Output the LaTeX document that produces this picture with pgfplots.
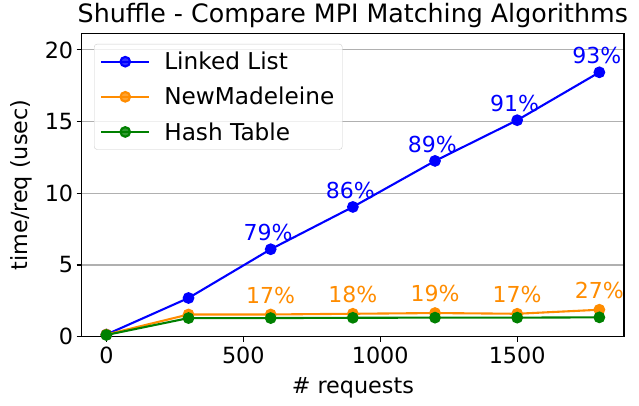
\documentclass[border=0pt]{standalone}
\usepackage{fontspec}
\setmainfont{DejaVu Sans}
\usepackage{pgfplots}
\pgfplotsset{compat=1.18}
\definecolor{mblue}{RGB}{0,0,255}
\definecolor{morange}{RGB}{255,140,0}
\definecolor{mgreen}{RGB}{0,128,0}
\newcommand{\tk}{\fontsize{22.3}{26}\selectfont}
\begin{document}
\begin{tikzpicture}
\begin{axis}[name=ax, at={(0,0)}, anchor=south west,
  scale only axis, width=542.3pt, height=303.4pt,
  xmin=-90, xmax=1890, ymin=0, ymax=21.16,
  xtick={0,500,1000,1500}, ytick={0,5,10,15,20},
  tick align=outside, major tick length=5pt, tick pos=left,
  tick style={line width=1.1pt, black},
  axis line style={line width=1.1pt},
  ymajorgrids, grid style={color=black!31, line width=1.1pt},
  /pgf/number format/assume math mode=true,
  /pgf/number format/1000 sep={},
  ticklabel style={font=\tk},
  xticklabel style={yshift=-2pt},
  xlabel={\# requests},
  xlabel style={font=\tk, at={(axis description cs:0.5,0)}, anchor=base, yshift=-57pt},
  ylabel={time/req (usec)},
  ylabel style={font=\tk, at={(axis description cs:-0.112,0.5)}, anchor=center},
  clip mode=individual,
  legend style={at={(axis description cs:0.0227,0.965)}, anchor=north west,
    draw=black!20, rounded corners=3pt, fill=white, fill opacity=0.8, text opacity=1,
    font=\fontsize{23.2}{27}\selectfont, row sep=12pt, inner xsep=6pt, inner ysep=6pt,
    /tikz/every even column/.append style={column sep=0pt},
    /tikz/every odd column/.append style={column sep=12pt}},
  legend cell align=left,
  legend image code/.code={\draw[mark repeat=2,mark phase=2] plot coordinates {(0pt,0pt)(24pt,0pt)(48pt,0pt)};},
  nodes near coords, point meta=explicit symbolic,
  every node near coord/.append style={font=\fontsize{22}{26}\selectfont, anchor=south, inner sep=0pt},
]
\addplot[mblue, line width=2.1pt, mark=*, mark size=4.8pt,
  every node near coord/.append style={text=mblue, yshift=7.5pt, xshift=-2.6pt}]
  coordinates {(0,0.15) [] (300,2.7) [] (600,6.1) [79\%] (900,9.05) [86\%] (1200,12.26) [89\%] (1500,15.1) [91\%] (1800,18.44) [93\%]};
\addlegendentry{Linked List}
\addplot[morange, line width=2.1pt, mark=*, mark size=4.8pt,
  every node near coord/.append style={text=morange, yshift=10pt}]
  coordinates {(0,0.15) [] (300,1.55) [] (600,1.55) [17\%] (900,1.6) [18\%] (1200,1.65) [19\%] (1500,1.6) [17\%] (1800,1.88) [27\%]};
\addlegendentry{NewMadeleine}
\addplot[mgreen, line width=2.1pt, mark=*, mark size=4.8pt]
  coordinates {(0,0.12) [] (300,1.3) [] (600,1.3) [] (900,1.32) [] (1200,1.33) [] (1500,1.33) [] (1800,1.35) []};
\addlegendentry{Hash Table}
\end{axis}
\node[anchor=base, inner sep=0pt, yshift=10.5pt, font=\fontsize{25.3}{30}\selectfont] at (ax.north) {Shuffle - Compare MPI Matching Algorithms};
\pgfresetboundingbox
\path (ax.south west) ++(-81.7pt,-68.3pt) rectangle ++(639pt,405pt);
\end{tikzpicture}
\end{document}
